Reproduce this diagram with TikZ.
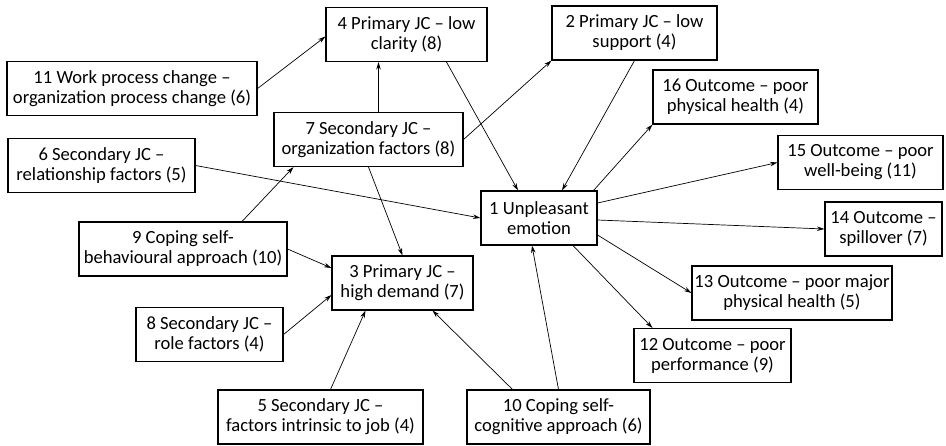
\documentclass[tikz,border=0pt]{standalone}
\usepackage{fontspec}
\setmainfont{Carlito}
\usetikzlibrary{arrows.meta}

\begin{document}
\begin{tikzpicture}[x=1pt, y=-1pt, >={Stealth[length=7.5pt,width=4.5pt]},
  jc/.style={draw, line width=1.1pt, align=center, minimum height=54pt, inner sep=2pt,
    font=\fontsize{18.6}{20}\selectfont},
  link/.style={->, line width=.7pt}]
\useasboundingbox (0,0) rectangle (946,445);
\node[jc, minimum width=116pt](n1) at (539,218){1 Unpleasant\\emotion};
\node[jc, minimum width=165pt](n2) at (634.5,33){2 Primary JC -- low\\support (4)};
\node[jc, minimum width=141pt](n3) at (402.5,283){3 Primary JC --\\high demand (7)};
\node[jc, minimum width=161pt](n4) at (406.5,34.5){4 Primary JC -- low\\clarity (8)};
\node[jc, minimum width=205pt](n5) at (320.5,417){5 Secondary JC --\\factors intrinsic to job (4)};
\node[jc, minimum width=187pt](n6) at (101.5,165.5){6 Secondary JC --\\relationship factors (5)};
\node[jc, minimum width=189pt](n7) at (368.5,139.5){7 Secondary JC --\\organization factors (8)};
\node[jc, minimum width=147pt](n8) at (209.5,334.5){8 Secondary JC --\\role factors (4)};
\node[jc, minimum width=208pt](n9) at (183,249){9 Coping self-\\behavioural approach (10)};
\node[jc, minimum width=183pt](n10) at (558.5,417){10 Coping self-\\cognitive approach (6)};
\node[jc, minimum width=250pt](n11) at (132,88.5){11 Work process change --\\organization process change (6)};
\node[jc, minimum width=157pt](n12) at (712.5,355.5){12 Outcome -- poor\\performance (9)};
\node[jc, minimum width=200pt](n13) at (792,293){13 Outcome -- poor major\\physical health (5)};
\node[jc, minimum width=117pt](n14) at (883.5,229){14 Outcome --\\spillover (7)};
\node[jc, minimum width=165pt](n15) at (860.5,162.5){15 Outcome -- poor\\well-being (11)};
\node[jc, minimum width=165pt](n16) at (735.5,97){16 Outcome -- poor\\physical health (4)};
\draw [link](n11.east) -- ([yshift=-2pt]n4.west);
\draw [link]([xshift=10pt]n7.north) -- ([xshift=10pt]n7.north |- n4.south);
\draw [link]([xshift=40pt]n4.south) -- ([xshift=-21pt]n1.north);
\draw [link](n7.east) -- (n2.south west);
\draw [link](n2.south) -- ([xshift=23pt]n1.north);
\draw [link]([xshift=-4pt]n1.north east) -- (n16.south west);
\draw [link]([yshift=15pt]n1.east) -- (n15.west);
\draw [link]([yshift=-2pt]n1.east) -- (n14.west);
\draw [link]([yshift=-17pt]n1.east) -- (n13.west);
\draw [link]([xshift=34pt]n1.south) -- ([xshift=-60pt]n12.north);
\draw [link](n10.north) -- ([xshift=-7pt]n1.south);
\draw [link]([xshift=-46pt]n10.north) -- ([xshift=30pt]n3.south);
\draw [link]([xshift=10pt]n5.north) -- ([xshift=-37pt]n3.south);
\draw [link](n8.east) -- ([yshift=-12pt]n3.west);
\draw [link](n9.east) -- ([yshift=15pt]n3.west);
\draw [link]([xshift=59pt]n9.north) -- ([xshift=-75pt]n7.south);
\draw [link](n7.south) -- (n3.north);
\draw [link](n6.east) -- (n1.west);
\end{tikzpicture}
\end{document}
